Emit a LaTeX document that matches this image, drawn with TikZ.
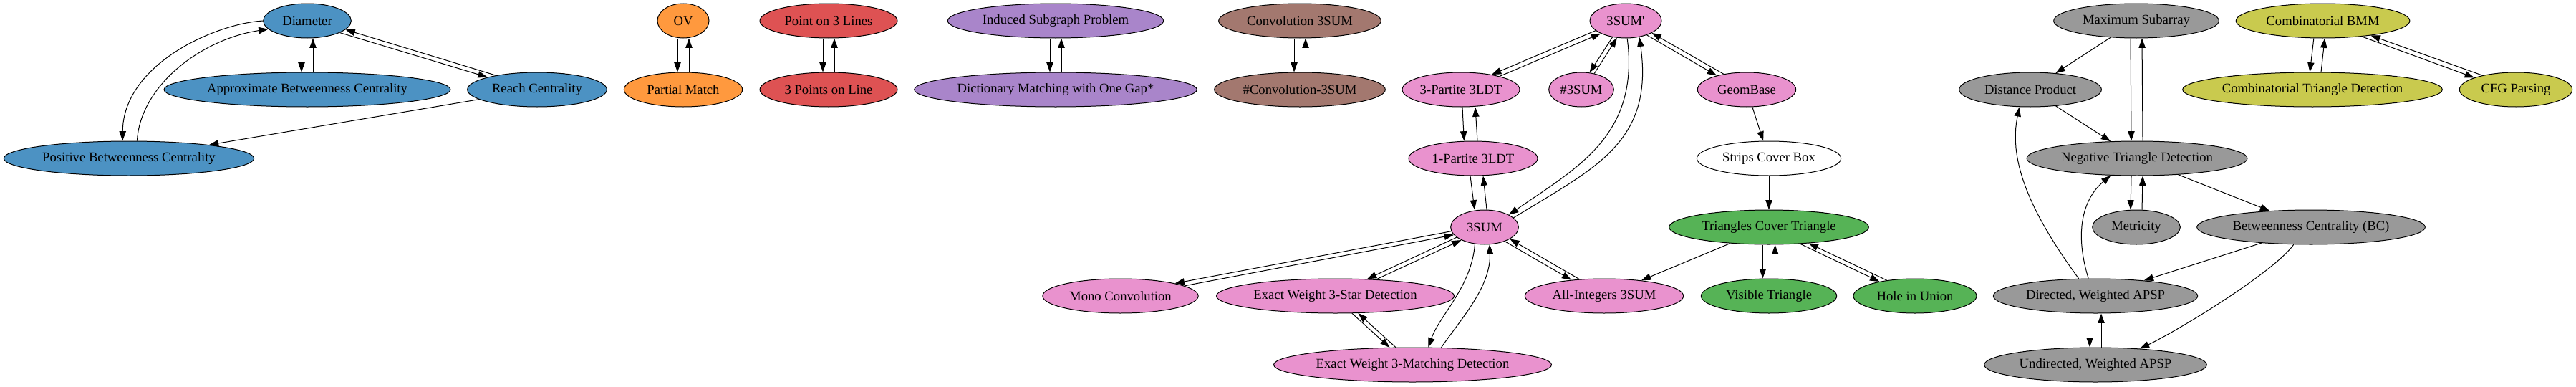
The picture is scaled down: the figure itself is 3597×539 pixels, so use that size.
\documentclass[tikz,border=0pt]{standalone}
\usepackage{fontspec}
\setmainfont{Liberation Serif}
\usetikzlibrary{shapes.geometric}
\usetikzlibrary{arrows.meta}
\definecolor{tabblue}{HTML}{4C92C3}
\definecolor{taborange}{HTML}{FF993E}
\definecolor{tabred}{HTML}{DE5253}
\definecolor{tabpurple}{HTML}{A985CA}
\definecolor{tabbrown}{HTML}{A3786F}
\definecolor{tabpink}{HTML}{E992CE}
\definecolor{tabgreen}{HTML}{56B356}
\definecolor{tabgray}{HTML}{999999}
\definecolor{tabolive}{HTML}{C9CA4E}
\tikzset{
	prob/.style={ellipse, draw=black, line width=0.75pt, inner sep=0pt, minimum height=36pt, font=\fontsize{14pt}{16pt}\selectfont},
	arr/.style={line width=0.75pt, -{Triangle[length=10pt,width=7pt]}},
}
\begin{document}
\begin{tikzpicture}[x=0.75pt, y=-0.75pt]
			\fill[white] (0,0) rectangle (3597,539);
			\useasboundingbox (0,0) rectangle (3597,539);
			\node[prob, fill=tabblue, minimum width=92pt] (dia) at (429,29) {Diameter};
			\node[prob, fill=tabblue, minimum width=300pt] (abc) at (429,125) {Approximate Betweenness Centrality};
			\node[prob, fill=tabblue, minimum width=146pt] (rc) at (750,125) {Reach Centrality};
			\node[prob, fill=tabblue, minimum width=262pt] (pbc) at (180,221) {Positive Betweenness Centrality};
			\node[prob, fill=taborange, minimum width=54pt] (ov) at (954,29) {OV};
			\node[prob, fill=taborange, minimum width=124pt] (pm) at (954,125) {Partial Match};
			\node[prob, fill=tabred, minimum width=144pt] (pl) at (1157,29) {Point on 3 Lines};
			\node[prob, fill=tabred, minimum width=144pt] (pol) at (1157,125) {3 Points on Line};
			\node[prob, fill=tabpurple, minimum width=226pt] (isp) at (1474,29) {Induced Subgraph Problem};
			\node[prob, fill=tabpurple, minimum width=296pt] (dm) at (1474,125) {Dictionary Matching with One Gap*};
			\node[prob, fill=tabbrown, minimum width=170pt] (cs) at (1815,29) {Convolution 3SUM};
			\node[prob, fill=tabbrown, minimum width=179pt] (ncs) at (1815,125) {\#Convolution-3SUM};
			\node[prob, fill=tabpink, minimum width=75pt] (tsp) at (2270,29) {3SUM\textquotesingle};
			\node[prob, fill=tabpink, minimum width=123pt] (p3) at (2040,125) {3-Partite 3LDT};
			\node[prob, fill=tabpink, minimum width=68pt] (ns) at (2208,125) {\#3SUM};
			\node[prob, fill=tabpink, minimum width=103pt] (gb) at (2439,125) {GeomBase};
			\node[prob, fill=tabpink, minimum width=135pt] (p1) at (2057,221) {1-Partite 3LDT};
			\node[prob, fill=white, minimum width=151pt] (scb) at (2470,221) {Strips Cover Box};
			\node[prob, fill=tabpink, minimum width=71pt] (ts) at (2073,317) {3SUM};
			\node[prob, fill=tabpink, minimum width=163pt] (mc) at (1564.5,413) {Mono Convolution};
			\node[prob, fill=tabpink, minimum width=249pt] (ws) at (1864.5,413) {Exact Weight 3-Star Detection};
			\node[prob, fill=tabpink, minimum width=291pt] (wm) at (1972.5,509) {Exact Weight 3-Matching Detection};
			\node[prob, fill=tabpink, minimum width=166pt] (ai) at (2240,413) {All-Integers 3SUM};
			\node[prob, fill=tabgreen, minimum width=209pt] (tct) at (2470,317) {Triangles Cover Triangle};
			\node[prob, fill=tabgreen, minimum width=142pt] (vt) at (2470,413) {Visible Triangle};
			\node[prob, fill=tabgreen, minimum width=129pt] (hu) at (2674,413) {Hole in Union};
			\node[prob, fill=tabgray, minimum width=173pt] (ms) at (2983,29) {Maximum Subarray};
			\node[prob, fill=tabgray, minimum width=149pt] (dp) at (2835,125) {Distance Product};
			\node[prob, fill=tabgray, minimum width=231pt] (ntd) at (2984,221) {Negative Triangle Detection};
			\node[prob, fill=tabgray, minimum width=92pt] (met) at (2983,317) {Metricity};
			\node[prob, fill=tabgray, minimum width=239pt] (bc) at (3227,317) {Betweenness Centrality (BC)};
			\node[prob, fill=tabgray, minimum width=214pt] (dw) at (2926,413) {Directed, Weighted APSP};
			\node[prob, fill=tabgray, minimum width=233pt] (uw) at (2926,509) {Undirected, Weighted APSP};
			\node[prob, fill=tabolive, minimum width=182pt] (cb) at (3243.5,29) {Combinatorial BMM};
			\node[prob, fill=tabolive, minimum width=272pt] (ctd) at (3229,125) {Combinatorial Triangle Detection};
			\node[prob, fill=tabolive, minimum width=118pt] (cfg) at (3513,125) {CFG Parsing};
			\draw[arr] ([xshift=-6pt]dia.south) -- ([xshift=-6pt]abc.north);
			\draw[arr] ([xshift=6pt]abc.north) -- ([xshift=6pt]dia.south);
			\draw[arr] (dia.-20) -- (rc.166);
			\draw[arr] (rc.161) -- (dia.-13);
			\draw[arr] (rc) -- (pbc);
			\draw[arr] (dia.180) .. controls (300,33) and (172,90) .. (pbc.110);
			\draw[arr] (pbc.65) .. controls (196,120) and (280,55) .. (dia.192);
			\draw[arr] ([xshift=-6pt]ov.south) -- ([xshift=-6pt]pm.north);
			\draw[arr] ([xshift=6pt]pm.north) -- ([xshift=6pt]ov.south);
			\draw[arr] ([xshift=-6pt]pl.south) -- ([xshift=-6pt]pol.north);
			\draw[arr] ([xshift=6pt]pol.north) -- ([xshift=6pt]pl.south);
			\draw[arr] ([xshift=-6pt]isp.south) -- ([xshift=-6pt]dm.north);
			\draw[arr] ([xshift=6pt]dm.north) -- ([xshift=6pt]isp.south);
			\draw[arr] ([xshift=-6pt]cs.south) -- ([xshift=-6pt]ncs.north);
			\draw[arr] ([xshift=6pt]ncs.north) -- ([xshift=6pt]cs.south);
			\draw[arr] (tsp.198) -- (p3.26);
			\draw[arr] (p3.19) -- (tsp.207);
			\draw[arr] (tsp.231) -- (ns.64);
			\draw[arr] (ns.51) -- (tsp.243);
			\draw[arr] (tsp.-34) -- (gb.155);
			\draw[arr] (gb.146) -- (tsp.-25);
			\draw[arr] (tsp.-85) .. controls (2290,190) and (2200,235) .. (ts.27);
			\draw[arr] (ts.18) .. controls (2225,235) and (2310,200) .. (tsp.-50);
			\draw[arr] ([xshift=1.5pt]p3.south) -- ([xshift=-9.5pt]p1.north);
			\draw[arr] ([xshift=4.5pt]p1.north) -- ([xshift=15pt]p3.south);
			\draw[arr] ([xshift=-3pt]p1.south) -- ([xshift=-10.5pt]ts.north);
			\draw[arr] ([xshift=2.25pt]ts.north) -- ([xshift=10.5pt]p1.south);
			\draw[arr] (ts.187) -- (mc.13);
			\draw[arr] (mc.9) -- (ts.194);
			\draw[arr] (ts.200) -- (ws.28);
			\draw[arr] (ws.22) -- (ts.209);
			\draw[arr] (ts.240) .. controls (2055,400) and (2010,440) .. (wm.48);
			\draw[arr] (wm.31) .. controls (2040,445) and (2082,400) .. (ts.-74);
			\draw[arr] (ws.-46) -- (wm.143);
			\draw[arr] (wm.134) -- (ws.-37);
			\draw[arr] (ts.-35) -- (ai.154);
			\draw[arr] (ai.146) -- (ts.-25);
			\draw[arr] (gb) -- (scb);
			\draw[arr] (scb) -- (tct);
			\draw[arr] (tct) -- (ai);
			\draw[arr] ([xshift=-6.5pt]tct.south) -- ([xshift=-6.5pt]vt.north);
			\draw[arr] ([xshift=6.5pt]vt.north) -- ([xshift=6.5pt]tct.south);
			\draw[arr] (tct.-28.5) -- (hu.158);
			\draw[arr] (hu.151) -- (tct.-22);
			\draw[arr] (ms) -- (dp);
			\draw[arr] ([xshift=-6pt]ms.south) -- ([xshift=-6pt]ntd.north);
			\draw[arr] ([xshift=6pt]ntd.north) -- ([xshift=6pt]ms.south);
			\draw[arr] (dp) -- (ntd);
			\draw[arr] ([xshift=-6pt]ntd.south) -- ([xshift=-6pt]met.north);
			\draw[arr] ([xshift=6pt]met.north) -- ([xshift=6pt]ntd.south);
			\draw[arr] (ntd) -- (bc);
			\draw[arr] (bc) -- (dw);
			\draw[arr] (bc.225) .. controls (3175,380) and (3040,462) .. (uw.20);
			\draw[arr] (dw.134) .. controls (2830,290) and (2805,220) .. (dp.238);
			\draw[arr] (dw.112) .. controls (2898,330) and (2905,280) .. (ntd.213);
			\draw[arr] ([xshift=-6pt]dw.south) -- ([xshift=-6pt]uw.north);
			\draw[arr] ([xshift=6pt]uw.north) -- ([xshift=6pt]dw.south);
			\draw[arr] ([xshift=-9.5pt]cb.south) -- ([xshift=-2.75pt]ctd.north);
			\draw[arr] ([xshift=9pt]ctd.north) -- ([xshift=2pt]cb.south);
			\draw[arr] (cb.-22) -- (cfg.164);
			\draw[arr] (cfg.157) -- (cb.-17);
		\end{tikzpicture}
\end{document}
